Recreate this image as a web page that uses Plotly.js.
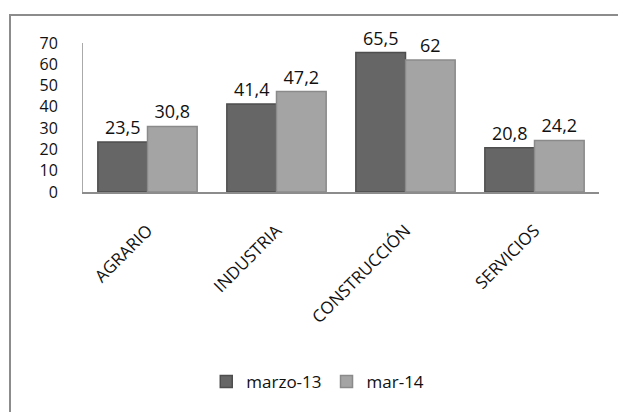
<!DOCTYPE html>
<html>
<head>
<meta charset="utf-8">
<script src="https://cdn.plot.ly/plotly-3.0.1.min.js"></script>
<style>
html,body{margin:0;padding:0;background:#fff;}
#wrap{position:relative;width:618px;height:412px;overflow:hidden;}
#chart{position:absolute;left:0;top:0;width:618px;height:412px;}
#frame{position:absolute;left:9px;top:14px;width:700px;height:600px;border-left:2px solid #8c8c8c;border-top:2px solid #8c8c8c;pointer-events:none;}
</style>
</head>
<body>
<div id="wrap"><div id="chart"></div><div id="frame"></div></div>
<script>
const categories = ["AGRARIO", "INDUSTRIA", "CONSTRUCCIÓN", "SERVICIOS"];
const seriesNames = ["marzo-13", "mar-14"];
const marzo13 = [23.5, 41.4, 65.5, 20.8];
const mar14 = [30.8, 47.2, 62, 24.2];
const yTicks = [0, 10, 20, 30, 40, 50, 60, 70];

const fmt = v => String(v).replace('.', ',');
const font = "Open Sans, Liberation Sans, sans-serif";

const traces = [
  {
    type: 'bar', name: seriesNames[0], x: categories, y: marzo13,
    text: marzo13.map(fmt), textposition: 'outside', cliponaxis: false,
    textfont: {size: 18, color: '#111', family: font},
    marker: {color: '#666666', line: {color: '#4e4e4e', width: 1.5}}
  },
  {
    type: 'bar', name: seriesNames[1], x: categories, y: mar14,
    text: mar14.map(fmt), textposition: 'outside', cliponaxis: false,
    textfont: {size: 18, color: '#111', family: font},
    marker: {color: '#a4a4a4', line: {color: '#8a8a8a', width: 1.5}}
  }
];

const layout = {
  width: 618, height: 412,
  margin: {l: 83, r: 19, t: 43, b: 220},
  paper_bgcolor: '#fff', plot_bgcolor: '#fff',
  font: {family: font, color: '#111'},
  barmode: 'group', bargap: 0.23, bargroupgap: 0,
  showlegend: true,
  legend: {orientation: 'h', x: 0.455, xanchor: 'center', y: -1.275, yanchor: 'middle',
           font: {size: 17, family: font}, itemwidth: 30, traceorder: 'normal'},
  xaxis: {
    tickangle: -45, tickfont: {size: 17, family: font},
    showline: true, linecolor: '#8c8c8c', linewidth: 2,
    ticks: 'outside', ticklen: 20, tickcolor: 'rgba(0,0,0,0)',
    showgrid: false, zeroline: false
  },
  yaxis: {
    range: [0, 70], tickvals: yTicks, tickfont: {size: 16, family: font},
    showline: true, linecolor: '#aaaaaa', linewidth: 1,
    ticks: 'outside', ticklen: 21, tickcolor: 'rgba(0,0,0,0)',
    showgrid: false, zeroline: false
  }
};

Plotly.newPlot('chart', traces, layout, {displayModeBar: false, staticPlot: true});
</script>
</body>
</html>
